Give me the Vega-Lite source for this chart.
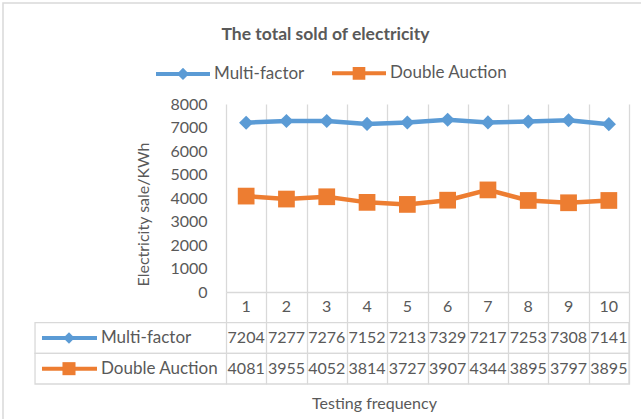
{
  "$schema": "https://vega.github.io/schema/vega-lite/v6.json",
  "padding": {"left": 2, "top": 2, "right": 0, "bottom": 0},
  "background": "white",
  "config": {
    "view": {"stroke": null},
    "font": "Lato",
    "axis": {"labelFont": "Lato", "titleFont": "Lato", "labelColor": "#595959", "titleColor": "#595959", "titleFontWeight": "normal"},
    "text": {"font": "Lato", "color": "#595959"}
  },
  "data": {
    "values": [
      {"test": 1, "series": "Multi-factor", "value": 7204},
      {"test": 2, "series": "Multi-factor", "value": 7277},
      {"test": 3, "series": "Multi-factor", "value": 7276},
      {"test": 4, "series": "Multi-factor", "value": 7152},
      {"test": 5, "series": "Multi-factor", "value": 7213},
      {"test": 6, "series": "Multi-factor", "value": 7329},
      {"test": 7, "series": "Multi-factor", "value": 7217},
      {"test": 8, "series": "Multi-factor", "value": 7253},
      {"test": 9, "series": "Multi-factor", "value": 7308},
      {"test": 10, "series": "Multi-factor", "value": 7141},
      {"test": 1, "series": "Double Auction", "value": 4081},
      {"test": 2, "series": "Double Auction", "value": 3955},
      {"test": 3, "series": "Double Auction", "value": 4052},
      {"test": 4, "series": "Double Auction", "value": 3814},
      {"test": 5, "series": "Double Auction", "value": 3727},
      {"test": 6, "series": "Double Auction", "value": 3907},
      {"test": 7, "series": "Double Auction", "value": 4344},
      {"test": 8, "series": "Double Auction", "value": 3895},
      {"test": 9, "series": "Double Auction", "value": 3797},
      {"test": 10, "series": "Double Auction", "value": 3895}
    ]
  },
  "spacing": 0,
  "bounds": "flush",
  "resolve": {
    "scale": {"x": "independent", "y": "independent", "color": "independent"},
    "legend": {"color": "independent"}
  },
  "vconcat": [
    {
      "width": 403,
      "height": 188,
      "title": {
        "text": "The total sold of electricity",
        "font": "Lato",
        "fontSize": 17.5,
        "fontWeight": "bold",
        "color": "#595959",
        "anchor": "middle",
        "frame": "group",
        "dx": -102,
        "offset": -41
      },
      "layer": [
        {
          "transform": [{"filter": "datum.test == 1 && datum.series == 'Multi-factor'"}],
          "mark": {"type": "rect", "fillOpacity": 0, "stroke": "#D9D9D9", "strokeWidth": 1.5},
          "encoding": {
            "x": {
              "datum": -5.0335, "type": "quantitative",
              "scale": {"domain": [0.5, 10.5], "nice": false, "zero": false},
              "axis": {
                "values": [0.5, 1.5, 2.5, 3.5, 4.5, 5.5, 6.5, 7.5, 8.5, 9.5, 10.5],
                "grid": true, "gridColor": "#D9D9D9", "gridWidth": 1.3,
                "labels": false, "ticks": false,
                "domain": true, "domainColor": "#D9D9D9", "domainWidth": 1.3,
                "title": null, "orient": "bottom"
              }
            },
            "x2": {"datum": 10.9},
            "y": {
              "datum": 12298, "type": "quantitative",
              "scale": {"domain": [0, 8000], "nice": false, "zero": true},
              "axis": {
                "values": [0, 1000, 2000, 3000, 4000, 5000, 6000, 7000, 8000],
                "tickCount": 9,
                "format": "d", "grid": false, "domain": false, "ticks": false,
                "labelOverlap": false,
                "labelPadding": 19, "labelFontSize": 16,
                "title": "Electricity sale/KWh", "titleFontSize": 16,
                "titleX": -83, "titleY": 110, "titleAngle": -90,
                "titleBaseline": "middle", "titleAlign": "center"
              }
            },
            "y2": {"datum": -5660}
          }
        },
        {
          "mark": {"type": "line", "strokeWidth": 4.5},
          "encoding": {
            "x": {"field": "test", "type": "quantitative"},
            "y": {
              "field": "value", "type": "quantitative",
              "axis": {
                "values": [0, 1000, 2000, 3000, 4000, 5000, 6000, 7000, 8000],
                "tickCount": 9,
                "format": "d", "grid": false, "domain": false, "ticks": false,
                "labelOverlap": false,
                "labelPadding": 19, "labelFontSize": 16,
                "title": "Electricity sale/KWh", "titleFontSize": 16,
                "titleX": -83, "titleY": 110, "titleAngle": -90,
                "titleBaseline": "middle", "titleAlign": "center"
              }
            },
            "color": {
              "field": "series", "type": "nominal",
              "scale": {"domain": ["Multi-factor", "Double Auction"], "range": ["#5B9BD5", "#ED7D31"]},
              "legend": {
                "orient": "none", "legendX": -72, "legendY": -60,
                "direction": "horizontal", "title": null,
                "symbolSize": 2916, "symbolStrokeWidth": 4,
                "labelFont": "Lato", "labelFontSize": 17, "labelColor": "#595959",
                "labelOffset": 2, "columnPadding": 19, "padding": 0,
                "encode": {
                  "symbols": {
                    "update": {
                      "shape": {"signal": "datum.value === 'Multi-factor' ? 'M-1,0L1,0M-0.12,0L0,-0.12L0.12,0L0,0.12Z' : 'M-1,0L1,0M-0.16,-0.16L0.16,-0.16L0.16,0.16L-0.16,0.16Z'"},
                      "fill": {"signal": "datum.value === 'Multi-factor' ? '#5B9BD5' : '#ED7D31'"},
                      "stroke": {"signal": "datum.value === 'Multi-factor' ? '#5B9BD5' : '#ED7D31'"},
                      "strokeWidth": {"value": 4},
                      "opacity": {"value": 1},
                      "fillOpacity": {"value": 1}
                    }
                  }
                }
              }
            }
          }
        },
        {
          "transform": [{"filter": "datum.series == 'Multi-factor'"}],
          "mark": {"type": "point", "shape": "diamond", "filled": true, "opacity": 1, "size": 200, "color": "#5B9BD5"},
          "encoding": {
            "x": {"field": "test", "type": "quantitative"},
            "y": {"field": "value", "type": "quantitative"}
          }
        },
        {
          "transform": [{"filter": "datum.series == 'Double Auction'"}],
          "mark": {"type": "point", "shape": "square", "filled": true, "opacity": 1, "size": 280, "color": "#ED7D31"},
          "encoding": {
            "x": {"field": "test", "type": "quantitative"},
            "y": {"field": "value", "type": "quantitative"}
          }
        }
      ]
    },
    {
      "width": 403,
      "height": 92,
      "layer": [
        {
          "transform": [{"filter": "datum.test == 1"}],
          "mark": {"type": "rect", "fillOpacity": 0, "stroke": "#D9D9D9", "strokeWidth": 1.3},
          "encoding": {
            "x": {
              "datum": -4.239, "type": "quantitative",
              "scale": {"domain": [0.5, 10.5], "nice": false, "zero": false},
              "axis": {
                "values": [0.5, 1.5, 2.5, 3.5, 4.5, 5.5, 6.5, 7.5, 8.5, 9.5, 10.5],
                "grid": true, "gridColor": "#D9D9D9", "gridWidth": 1.3,
                "labels": false, "ticks": false, "domain": false,
                "title": "Testing frequency", "titleFontSize": 16,
                "titleX": 148, "titleY": 19, "titleBaseline": "middle", "titleAlign": "center",
                "orient": "bottom"
              }
            },
            "x2": {"datum": 10.5},
            "y": {
              "field": "series", "type": "nominal",
              "scale": {"domain": ["header", "Multi-factor", "Double Auction"], "paddingInner": 0, "paddingOuter": 0},
              "axis": null
            }
          }
        },
        {
          "transform": [{"filter": "datum.series == 'Multi-factor'"}],
          "mark": {"type": "text", "fontSize": 16, "font": "Lato", "color": "#595959"},
          "encoding": {
            "x": {"field": "test", "type": "quantitative"},
            "y": {"datum": "header", "type": "nominal", "axis": null},
            "text": {"field": "test", "type": "nominal"}
          }
        },
        {
          "mark": {"type": "text", "fontSize": 16, "font": "Lato", "color": "#595959"},
          "encoding": {
            "x": {"field": "test", "type": "quantitative"},
            "y": {"field": "series", "type": "nominal", "axis": null},
            "text": {"field": "value", "type": "nominal"}
          }
        },
        {
          "transform": [{"filter": "datum.test == 1"}],
          "mark": {"type": "rule", "strokeWidth": 4},
          "encoding": {
            "x": {"datum": -4.066, "type": "quantitative"},
            "x2": {"datum": -2.701},
            "y": {"field": "series", "type": "nominal", "axis": null},
            "color": {
              "field": "series", "type": "nominal",
              "scale": {"domain": ["Multi-factor", "Double Auction"], "range": ["#5B9BD5", "#ED7D31"]},
              "legend": null
            }
          }
        },
        {
          "transform": [{"filter": "datum.test == 1 && datum.series == 'Multi-factor'"}],
          "mark": {"type": "point", "shape": "diamond", "filled": true, "opacity": 1, "size": 130, "color": "#5B9BD5"},
          "encoding": {
            "x": {"datum": -3.396, "type": "quantitative"},
            "y": {"field": "series", "type": "nominal", "axis": null}
          }
        },
        {
          "transform": [{"filter": "datum.test == 1 && datum.series == 'Double Auction'"}],
          "mark": {"type": "point", "shape": "square", "filled": true, "opacity": 1, "size": 170, "color": "#ED7D31"},
          "encoding": {
            "x": {"datum": -3.396, "type": "quantitative"},
            "y": {"field": "series", "type": "nominal", "axis": null}
          }
        },
        {
          "transform": [{"filter": "datum.test == 1"}],
          "mark": {"type": "text", "fontSize": 17, "font": "Lato", "color": "#595959", "align": "left"},
          "encoding": {
            "x": {"datum": -2.602, "type": "quantitative"},
            "y": {"field": "series", "type": "nominal", "axis": null},
            "text": {"field": "series", "type": "nominal"}
          }
        }
      ]
    }
  ]
}
